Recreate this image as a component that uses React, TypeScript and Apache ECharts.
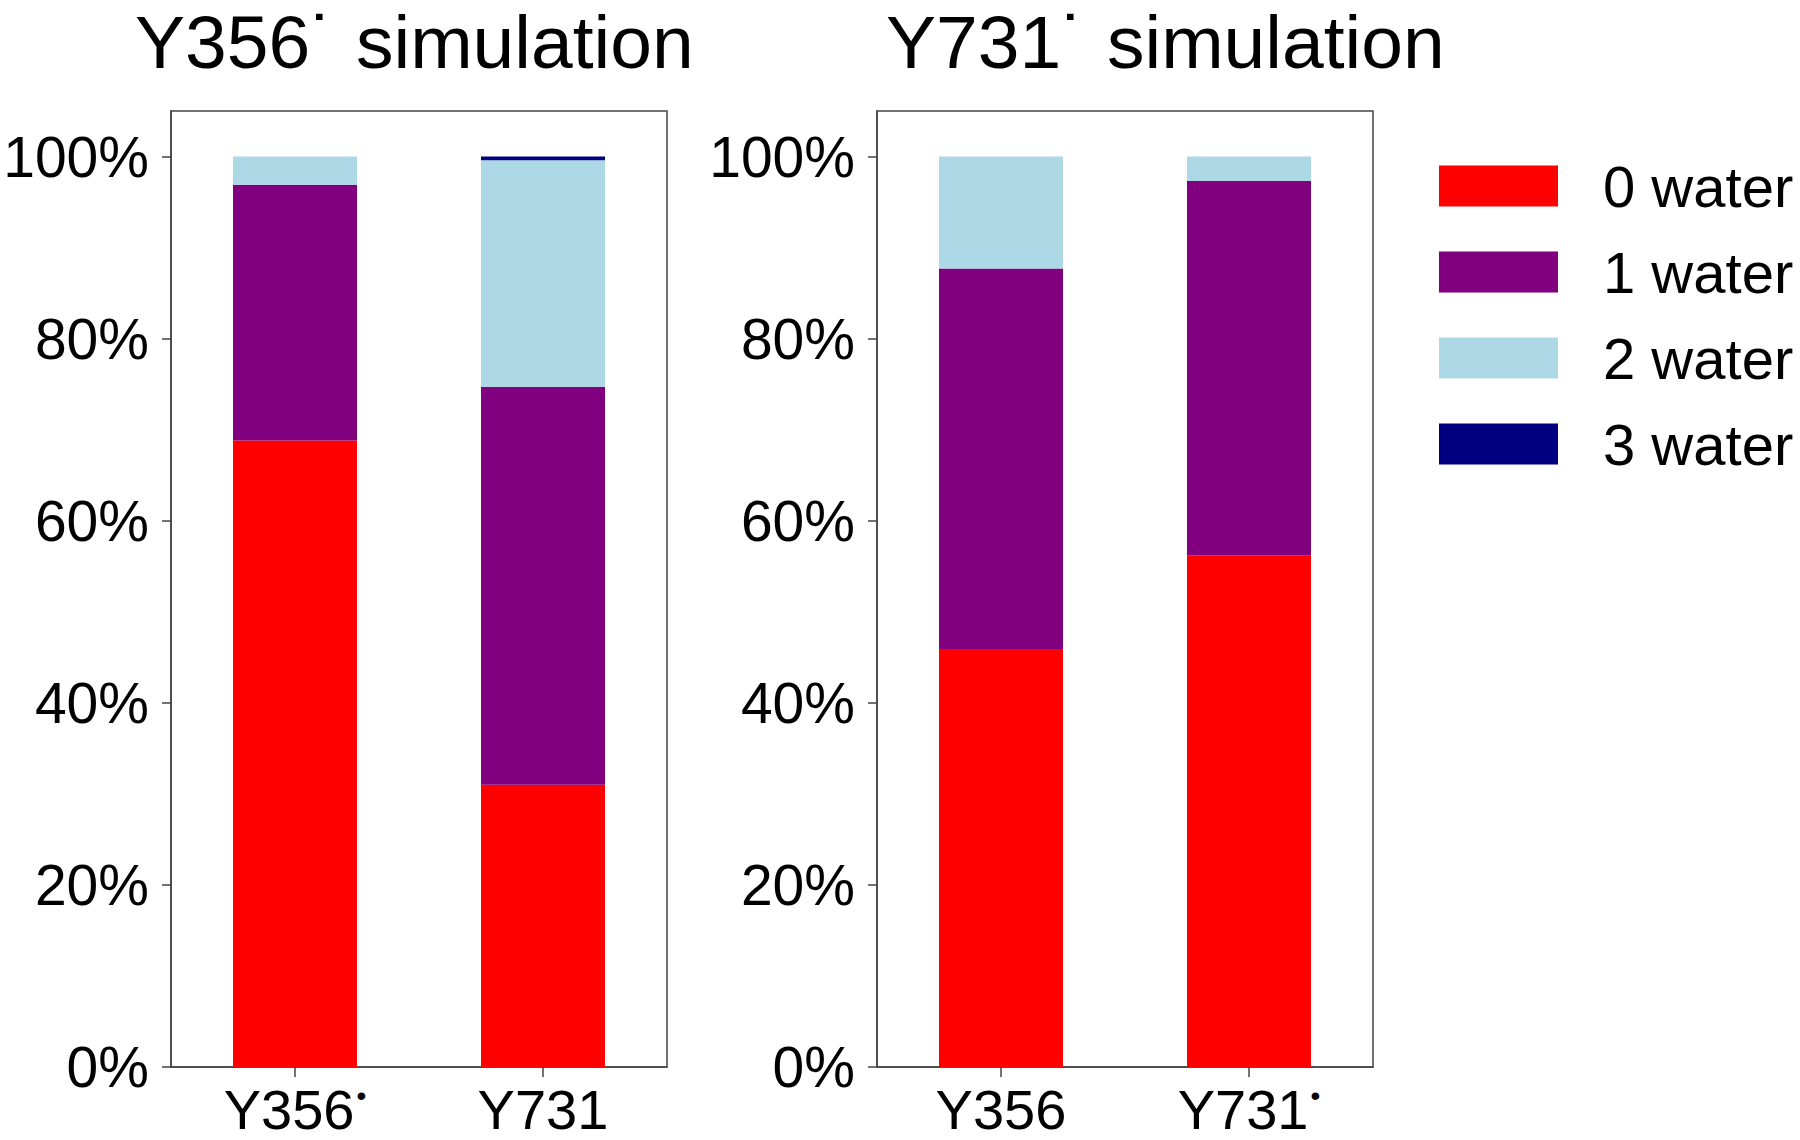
import React, { useEffect, useRef } from "react";
import * as echarts from "echarts";

const leftCategories = ["Y356{dot|•}", "Y731"];
const rightCategories = ["Y356", "Y731{dot|•}"];
const leftTitle = "Y356˙ simulation";
const rightTitle = "Y731˙ simulation";
const seriesNames = ["0 water", "1 water", "2 water", "3 water"];
const seriesColors = ["#ff0000", "#800080", "#add8e6", "#000080"];
// left panel: Y356• simulation
const leftWater0 = [68.8, 31.0];
const leftWater1 = [28.1, 43.7];
const leftWater2 = [3.1, 24.9];
const leftWater3 = [0, 0.4];
// right panel: Y731• simulation
const rightWater0 = [45.9, 56.2];
const rightWater1 = [41.8, 41.1];
const rightWater2 = [12.3, 2.7];
const rightWater3 = [0, 0];
const yTicks = [0, 20, 40, 60, 80, 100];

const FONT = "'Liberation Sans', Arial, sans-serif";

export default function App() {
  const ref = useRef<HTMLDivElement>(null);
  useEffect(() => {
    document.body.style.margin = "0";
    if (!ref.current) return;
    const chart = echarts.init(ref.current, null, { renderer: "svg" });
    const leftData = [leftWater0, leftWater1, leftWater2, leftWater3];
    const rightData = [rightWater0, rightWater1, rightWater2, rightWater3];
    const axisColor = "#444";
    const dotRich = {
      dot: { fontSize: 28, verticalAlign: "top", fontFamily: FONT, color: "#000", padding: [0, 0, 0, 2] },
    };
    const makeX = (gi: number, data: string[]) => ({
      type: "category",
      gridIndex: gi,
      data,
      axisLine: { show: true, lineStyle: { color: axisColor, width: 1.5 } },
      axisTick: { show: true, interval: 0, alignWithLabel: true, length: 10, lineStyle: { color: axisColor, width: 1.5 } },
      axisLabel: {
        interval: 0,
        fontSize: 56,
        fontFamily: FONT,
        color: "#000",
        margin: 14,
        rich: dotRich,
      },
    });
    const makeY = (gi: number) => ({
      type: "value",
      gridIndex: gi,
      min: 0,
      max: 105,
      interval: 5,
      splitLine: { show: false },
      axisLine: { show: true, lineStyle: { color: axisColor, width: 1.5 } },
      axisTick: { show: true, length: 9, customValues: yTicks, lineStyle: { color: axisColor, width: 1.5 } },
      axisLabel: {
        customValues: yTicks,
        fontSize: 57,
        fontFamily: FONT,
        color: "#000",
        margin: 22,
        formatter: (v: number) => `${v}%`,
      },
    });
    const series: any[] = [];
    seriesNames.forEach((name, i) => {
      series.push({
        name,
        type: "bar",
        xAxisIndex: 0,
        yAxisIndex: 0,
        stack: "left",
        barWidth: "50%",
        data: leftData[i],
        itemStyle: { color: seriesColors[i] },
      });
    });
    seriesNames.forEach((name, i) => {
      series.push({
        name,
        type: "bar",
        xAxisIndex: 1,
        yAxisIndex: 1,
        stack: "right",
        barWidth: "50%",
        data: rightData[i],
        itemStyle: { color: seriesColors[i] },
      });
    });
    const titleStyle = {
      fontSize: 75,
      lineHeight: 84,
      fontWeight: "normal",
      fontFamily: FONT,
      color: "#000",
    };
    chart.setOption({
      animation: false,
      backgroundColor: "#fff",
      title: [
        { text: leftTitle, left: 135, top: 0, padding: 0, textStyle: titleStyle },
        { text: rightTitle, left: 886, top: 0, padding: 0, textStyle: titleStyle },
      ],
      legend: {
        orient: "vertical",
        left: 1434,
        top: 151,
        icon: "rect",
        itemWidth: 119,
        itemHeight: 41,
        itemGap: 26,
        data: seriesNames,
        textStyle: { fontSize: 58, fontFamily: FONT, color: "#000", lineHeight: 60, padding: [0, 0, 0, 40] },
      },
      grid: [
        { left: 171, top: 111, width: 496, height: 956, show: true, borderColor: axisColor, borderWidth: 1.5, backgroundColor: "transparent" },
        { left: 877, top: 111, width: 496, height: 956, show: true, borderColor: axisColor, borderWidth: 1.5, backgroundColor: "transparent" },
      ],
      xAxis: [makeX(0, leftCategories), makeX(1, rightCategories)],
      yAxis: [makeY(0), makeY(1)],
      series,
    });
    return () => chart.dispose();
  }, []);
  return <div ref={ref} style={{ width: 1800, height: 1140 }} />;
}
